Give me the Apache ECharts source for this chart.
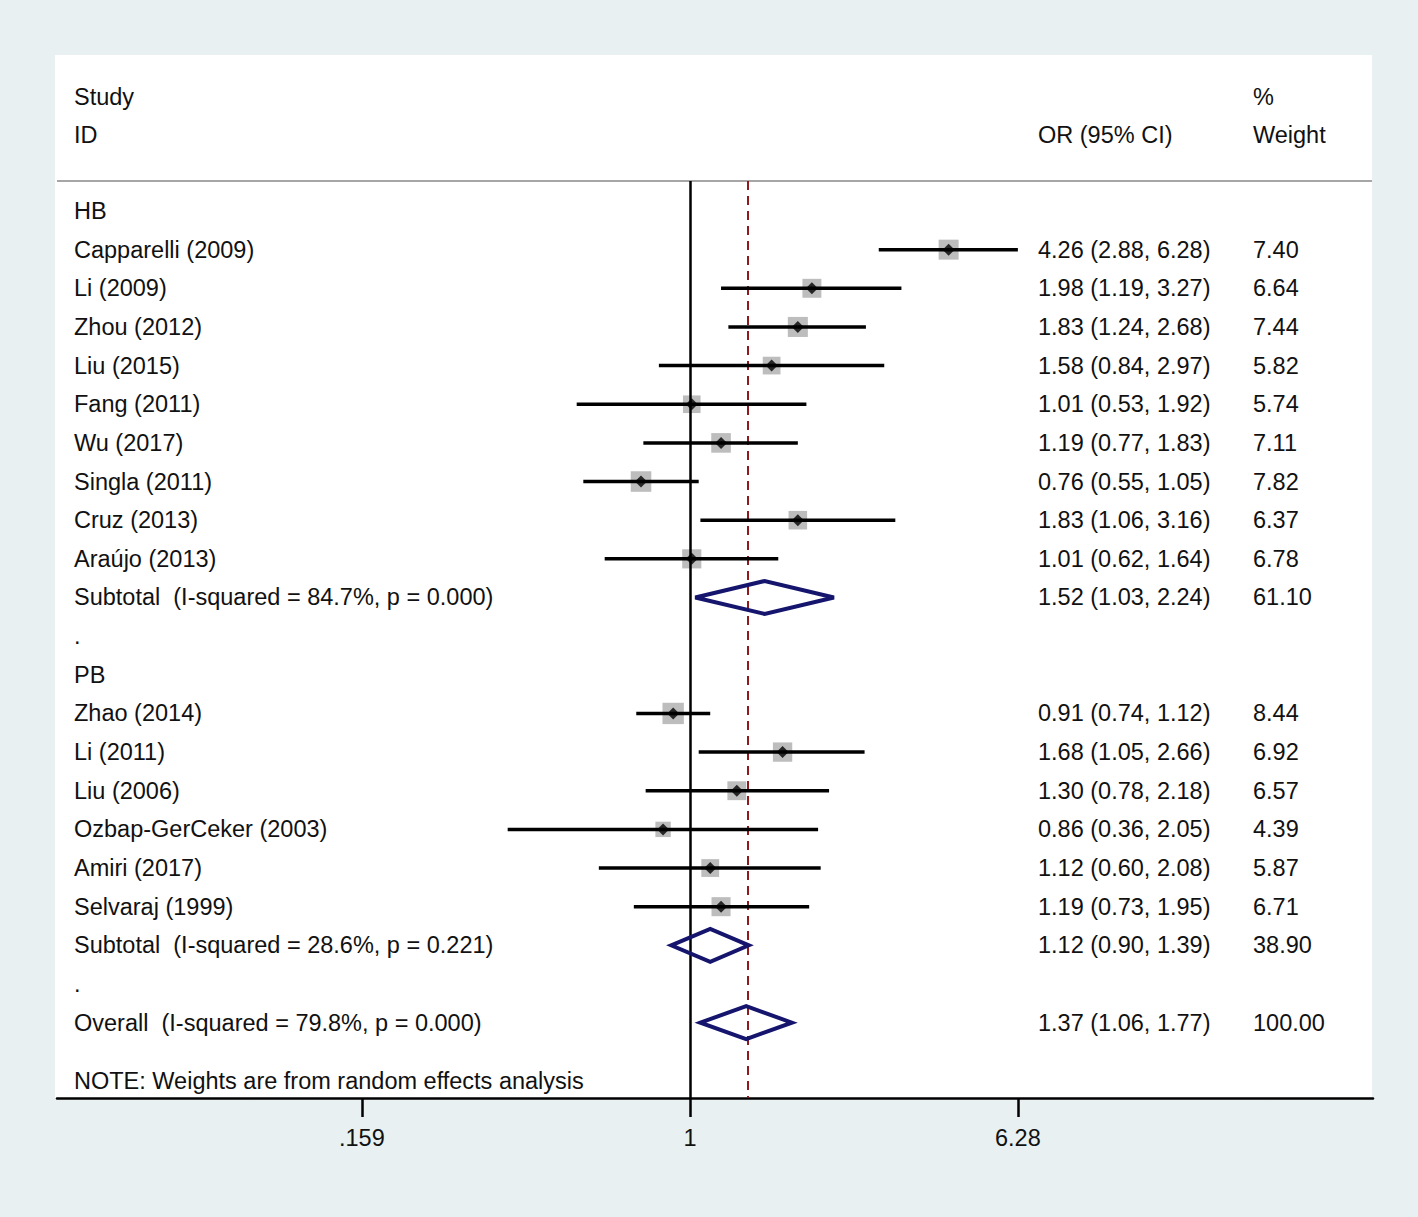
<!DOCTYPE html>
<html><head><meta charset="utf-8">
<script src="https://cdn.jsdelivr.net/npm/echarts@6/dist/echarts.min.js"></script>
<style>html,body{margin:0;padding:0;background:#E8F0F2}#c{width:1418px;height:1217px}</style>
</head><body><div id="c"></div>
<script>
// ---------- data ----------
const groupNames = ['HB', 'PB'];
const hbStudies = ['Capparelli (2009)', 'Li (2009)', 'Zhou (2012)', 'Liu (2015)', 'Fang (2011)', 'Wu (2017)', 'Singla (2011)', 'Cruz (2013)', 'Araújo (2013)'];
const hbOR = [4.26, 1.98, 1.83, 1.58, 1.01, 1.19, 0.76, 1.83, 1.01];
const hbLo = [2.88, 1.19, 1.24, 0.84, 0.53, 0.77, 0.55, 1.06, 0.62];
const hbHi = [6.28, 3.27, 2.68, 2.97, 1.92, 1.83, 1.05, 3.16, 1.64];
const hbW  = [7.40, 6.64, 7.44, 5.82, 5.74, 7.11, 7.82, 6.37, 6.78];

const pbStudies = ['Zhao (2014)', 'Li (2011)', 'Liu (2006)', 'Ozbap-GerCeker (2003)', 'Amiri (2017)', 'Selvaraj (1999)'];
const pbOR = [0.91, 1.68, 1.30, 0.86, 1.12, 1.19];
const pbLo = [0.74, 1.05, 0.78, 0.36, 0.60, 0.73];
const pbHi = [1.12, 2.66, 2.18, 2.05, 2.08, 1.95];
const pbW  = [8.44, 6.92, 6.57, 4.39, 5.87, 6.71];

// pooled: HB subtotal, PB subtotal
const subOR = [1.52, 1.12];
const subLo = [1.03, 0.90];
const subHi = [2.24, 1.39];
const subW  = [61.10, 38.90];
const subI2 = [84.7, 28.6];
const subP  = [0.000, 0.221];

const overallOR = 1.37, overallLo = 1.06, overallHi = 1.77, overallW = 100.00;
const overallI2 = 79.8, overallP = 0.000;

const tickValues = [0.159, 1, 6.28];
const tickLabels = ['.159', '1', '6.28'];
const noteText = 'NOTE: Weights are from random effects analysis';

// ---------- layout / style constants ----------
const FONT = 'Liberation Sans, Arial, Helvetica, sans-serif';
const FS = 23.5;
const TXT = '#111111';
const COL_STUDY = 74, COL_OR = 1038, COL_W = 1253;
const X_MIN = -1.5405, X_MAX = 1.6622;   // log10 extent of the axis
const Y_MIN = -0.776, Y_MAX = 22.95;     // row extent
const NOTE_ROW = 22.5;
const BOX_K = 7.35;
const DIAMOND_H = 16.5;

// ---------- build rows ----------
const lg = Math.log10;
const rows = [];
let r = 0;
function addGroup(gi, names, or, lo, hi, w) {
  rows.push({row: r++, label: groupNames[gi], type: 'group'});
  names.forEach((s, i) => rows.push({row: r++, label: s, type: 'study', or: or[i], lo: lo[i], hi: hi[i], w: w[i]}));
  rows.push({row: r++, type: 'pooled',
    label: 'Subtotal\u00a0 (I-squared = ' + subI2[gi].toFixed(1) + '%, p = ' + subP[gi].toFixed(3) + ')',
    or: subOR[gi], lo: subLo[gi], hi: subHi[gi], w: subW[gi]});
  rows.push({row: r++, label: '.', type: 'blank'});
}
addGroup(0, hbStudies, hbOR, hbLo, hbHi, hbW);
addGroup(1, pbStudies, pbOR, pbLo, pbHi, pbW);
rows.push({row: r++, type: 'pooled',
  label: 'Overall\u00a0 (I-squared = ' + overallI2.toFixed(1) + '%, p = ' + overallP.toFixed(3) + ')',
  or: overallOR, lo: overallLo, hi: overallHi, w: overallW});
rows.push({row: NOTE_ROW, label: noteText, type: 'note'});

const studies = rows.filter(d => d.type === 'study');
const pooled = rows.filter(d => d.type === 'pooled');
const fmt2 = v => v.toFixed(2);

const chart = echarts.init(document.getElementById('c'), null, {renderer: 'svg'});
chart.setOption({
  backgroundColor: '#E8F0F2',
  animation: false,
  grid: {left: 57, right: 45, top: 181, bottom: 119, containLabel: false},
  xAxis: {
    type: 'value', min: X_MIN, max: X_MAX, position: 'bottom',
    splitLine: {show: false},
    axisLine: {show: true, onZero: false, lineStyle: {color: '#000', width: 2.5}},
    axisTick: {show: true, customValues: tickValues.map(lg), length: 19, lineStyle: {color: '#000', width: 2.5}},
    axisLabel: {
      customValues: tickValues.map(lg), margin: 28,
      color: TXT, fontSize: FS, fontFamily: FONT,
      formatter: v => {
        const i = tickValues.findIndex(t => Math.abs(lg(t) - v) < 1e-6);
        return i >= 0 ? tickLabels[i] : '';
      }
    }
  },
  yAxis: {type: 'value', inverse: true, min: Y_MIN, max: Y_MAX, show: false},
  graphic: [
    {type: 'rect', z: 0, shape: {x: 55, y: 55, width: 1317, height: 1043}, style: {fill: '#ffffff'}},
    {type: 'line', z: 1, shape: {x1: 57, y1: 181, x2: 1372, y2: 181}, style: {stroke: '#A6A6A6', lineWidth: 2}},
    {type: 'text', z: 5, x: COL_STUDY, y: 97, style: {text: 'Study', fill: TXT, fontSize: FS, fontFamily: FONT, verticalAlign: 'middle', align: 'left'}},
    {type: 'text', z: 5, x: COL_STUDY, y: 135, style: {text: 'ID', fill: TXT, fontSize: FS, fontFamily: FONT, verticalAlign: 'middle', align: 'left'}},
    {type: 'text', z: 5, x: COL_OR, y: 135, style: {text: 'OR (95% CI)', fill: TXT, fontSize: FS, fontFamily: FONT, verticalAlign: 'middle', align: 'left'}},
    {type: 'text', z: 5, x: COL_W, y: 97, style: {text: '%', fill: TXT, fontSize: FS, fontFamily: FONT, verticalAlign: 'middle', align: 'left'}},
    {type: 'text', z: 5, x: COL_W, y: 135, style: {text: 'Weight', fill: TXT, fontSize: FS, fontFamily: FONT, verticalAlign: 'middle', align: 'left'}}
  ],
  series: [
    { // reference lines
      type: 'scatter', data: [], z: 3, silent: true,
      markLine: {
        silent: true, symbol: 'none', label: {show: false},
        data: [
          {xAxis: 0, lineStyle: {color: '#000', width: 2.5, type: 'solid'}},
          {xAxis: lg(overallOR), lineStyle: {color: '#8E1A1E', width: 2, type: [9, 6]}}
        ]
      }
    },
    { // weight boxes
      type: 'scatter', z: 4, silent: true, symbol: 'rect',
      data: studies.map(d => [lg(d.or), d.row, d.w]),
      symbolSize: v => Math.sqrt(v[2]) * BOX_K,
      itemStyle: {color: '#BDBDBD', opacity: 1}
    },
    { // CI lines
      type: 'custom', z: 5, silent: true,
      data: studies.map(d => [lg(d.lo), lg(d.hi), d.row]),
      renderItem: (params, api) => {
        const a = api.coord([api.value(0), api.value(2)]);
        const b = api.coord([api.value(1), api.value(2)]);
        return {type: 'line', shape: {x1: a[0], y1: a[1], x2: b[0], y2: b[1]}, style: {stroke: '#000', lineWidth: 3.5}};
      }
    },
    { // point estimates
      type: 'scatter', z: 6, silent: true, symbol: 'diamond', symbolSize: 12,
      data: studies.map(d => [lg(d.or), d.row]),
      itemStyle: {color: '#000'}
    },
    { // pooled diamonds
      type: 'custom', z: 6, silent: true,
      data: pooled.map(d => [lg(d.or), d.row, lg(d.lo), lg(d.hi)]),
      renderItem: (params, api) => {
        const c = api.coord([api.value(0), api.value(1)]);
        const l = api.coord([api.value(2), api.value(1)]);
        const h = api.coord([api.value(3), api.value(1)]);
        return {type: 'polygon', shape: {points: [[l[0], c[1]], [c[0], c[1] - DIAMOND_H], [h[0], c[1]], [c[0], c[1] + DIAMOND_H]]},
          style: {stroke: '#15156E', fill: 'none', lineWidth: 4, lineJoin: 'miter'}};
      }
    },
    { // table text
      type: 'custom', z: 7, silent: true, clip: false,
      data: rows.map(d => [0, d.row]),
      renderItem: (params, api) => {
        const d = rows[params.dataIndex];
        const y = api.coord([0, api.value(1)])[1];
        const st = t => ({text: t, fill: TXT, fontSize: FS, fontFamily: FONT, verticalAlign: 'middle', align: 'left'});
        const ch = [{type: 'text', x: COL_STUDY, y: y, style: st(d.label)}];
        if (d.or !== undefined) {
          ch.push({type: 'text', x: COL_OR, y: y, style: st(fmt2(d.or) + ' (' + fmt2(d.lo) + ', ' + fmt2(d.hi) + ')')});
          ch.push({type: 'text', x: COL_W, y: y, style: st(fmt2(d.w))});
        }
        return {type: 'group', children: ch};
      }
    }
  ]
});
</script></body></html>
